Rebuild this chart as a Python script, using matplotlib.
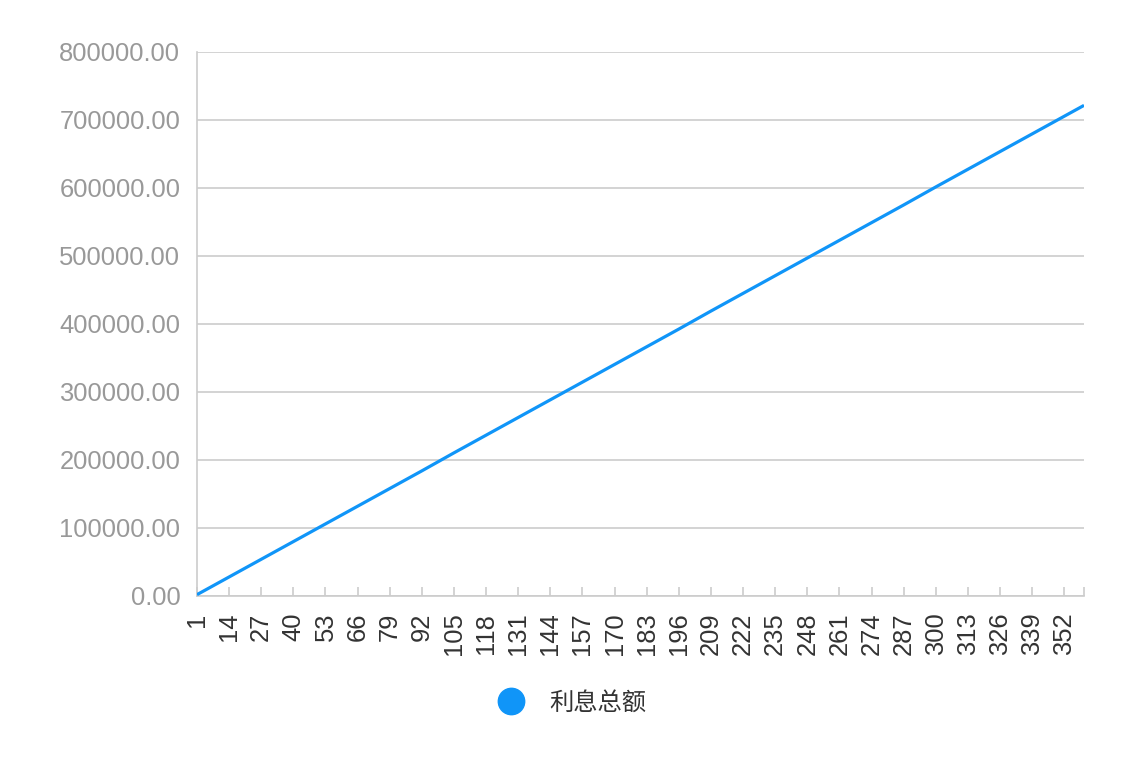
import matplotlib
matplotlib.use('Agg')
from matplotlib import pyplot as plt
from matplotlib.lines import Line2D

plt.rcParams['font.family'] = ['Liberation Sans', 'Noto Sans CJK SC', 'DejaVu Sans']

# months 1..360, values at the labelled months
months = list(range(1, 361))
month_pts = [1, 14, 27, 40, 53, 66, 79, 92, 105, 118, 131, 144, 157, 170, 183,
             196, 209, 222, 235, 248, 261, 274, 287, 300, 313, 326, 339, 352, 360]
interest = [2000, 28000, 54000, 80000, 106000, 132000, 158000, 184000, 210500,
            236500, 262500, 288500, 314500, 340500, 366500, 392500, 419000,
            445000, 471000, 497000, 523000, 549000, 575000, 601500, 627500,
            653500, 679500, 705500, 721500]
y_ticks = [0, 100000, 200000, 300000, 400000, 500000, 600000, 700000, 800000]
series_name = '利息总额'

line_col = '#1095f8'
grid_col = '#cccccc'

fig = plt.figure(figsize=(11.4, 7.84), dpi=100)
ax = fig.add_axes([0.1728, 0.2398, 0.7781, 0.6939])

ax.plot(month_pts, interest, color=line_col, lw=2.3, solid_capstyle='butt', zorder=3)

ax.set_xlim(months[0], months[-1])
ax.set_ylim(y_ticks[0], y_ticks[-1])
ax.set_yticks(y_ticks)
ax.set_yticklabels(['%.2f' % v for v in y_ticks])
xt = months[::13] + [months[-1]]
ax.set_xticks(xt)
ax.set_xticklabels([str(m) for m in months[::13]] + [''], rotation=90)

ax.grid(axis='y', color=grid_col, lw=1.2)
ax.set_axisbelow(True)
for s in ['top', 'right']:
    ax.spines[s].set_visible(False)
for s in ['left', 'bottom']:
    ax.spines[s].set_color(grid_col)
    ax.spines[s].set_linewidth(1.2)

ax.tick_params(axis='y', length=0, pad=12, labelsize=18.4, labelcolor='#999999')
ax.tick_params(axis='x', direction='in', length=6.5, width=1.2, color=grid_col,
               pad=12, labelsize=18.4, labelcolor='#333333')

h = Line2D([], [], color=line_col, marker='o', ls='none', markersize=19)
fig.legend([h], [series_name], loc='center', bbox_to_anchor=(0.497, 0.104),
           frameon=False, handletextpad=0.55, prop={'family': ['Noto Sans CJK SC'], 'size': 17.5},
           labelcolor='#333333')

fig.savefig('out.png', dpi=100)
